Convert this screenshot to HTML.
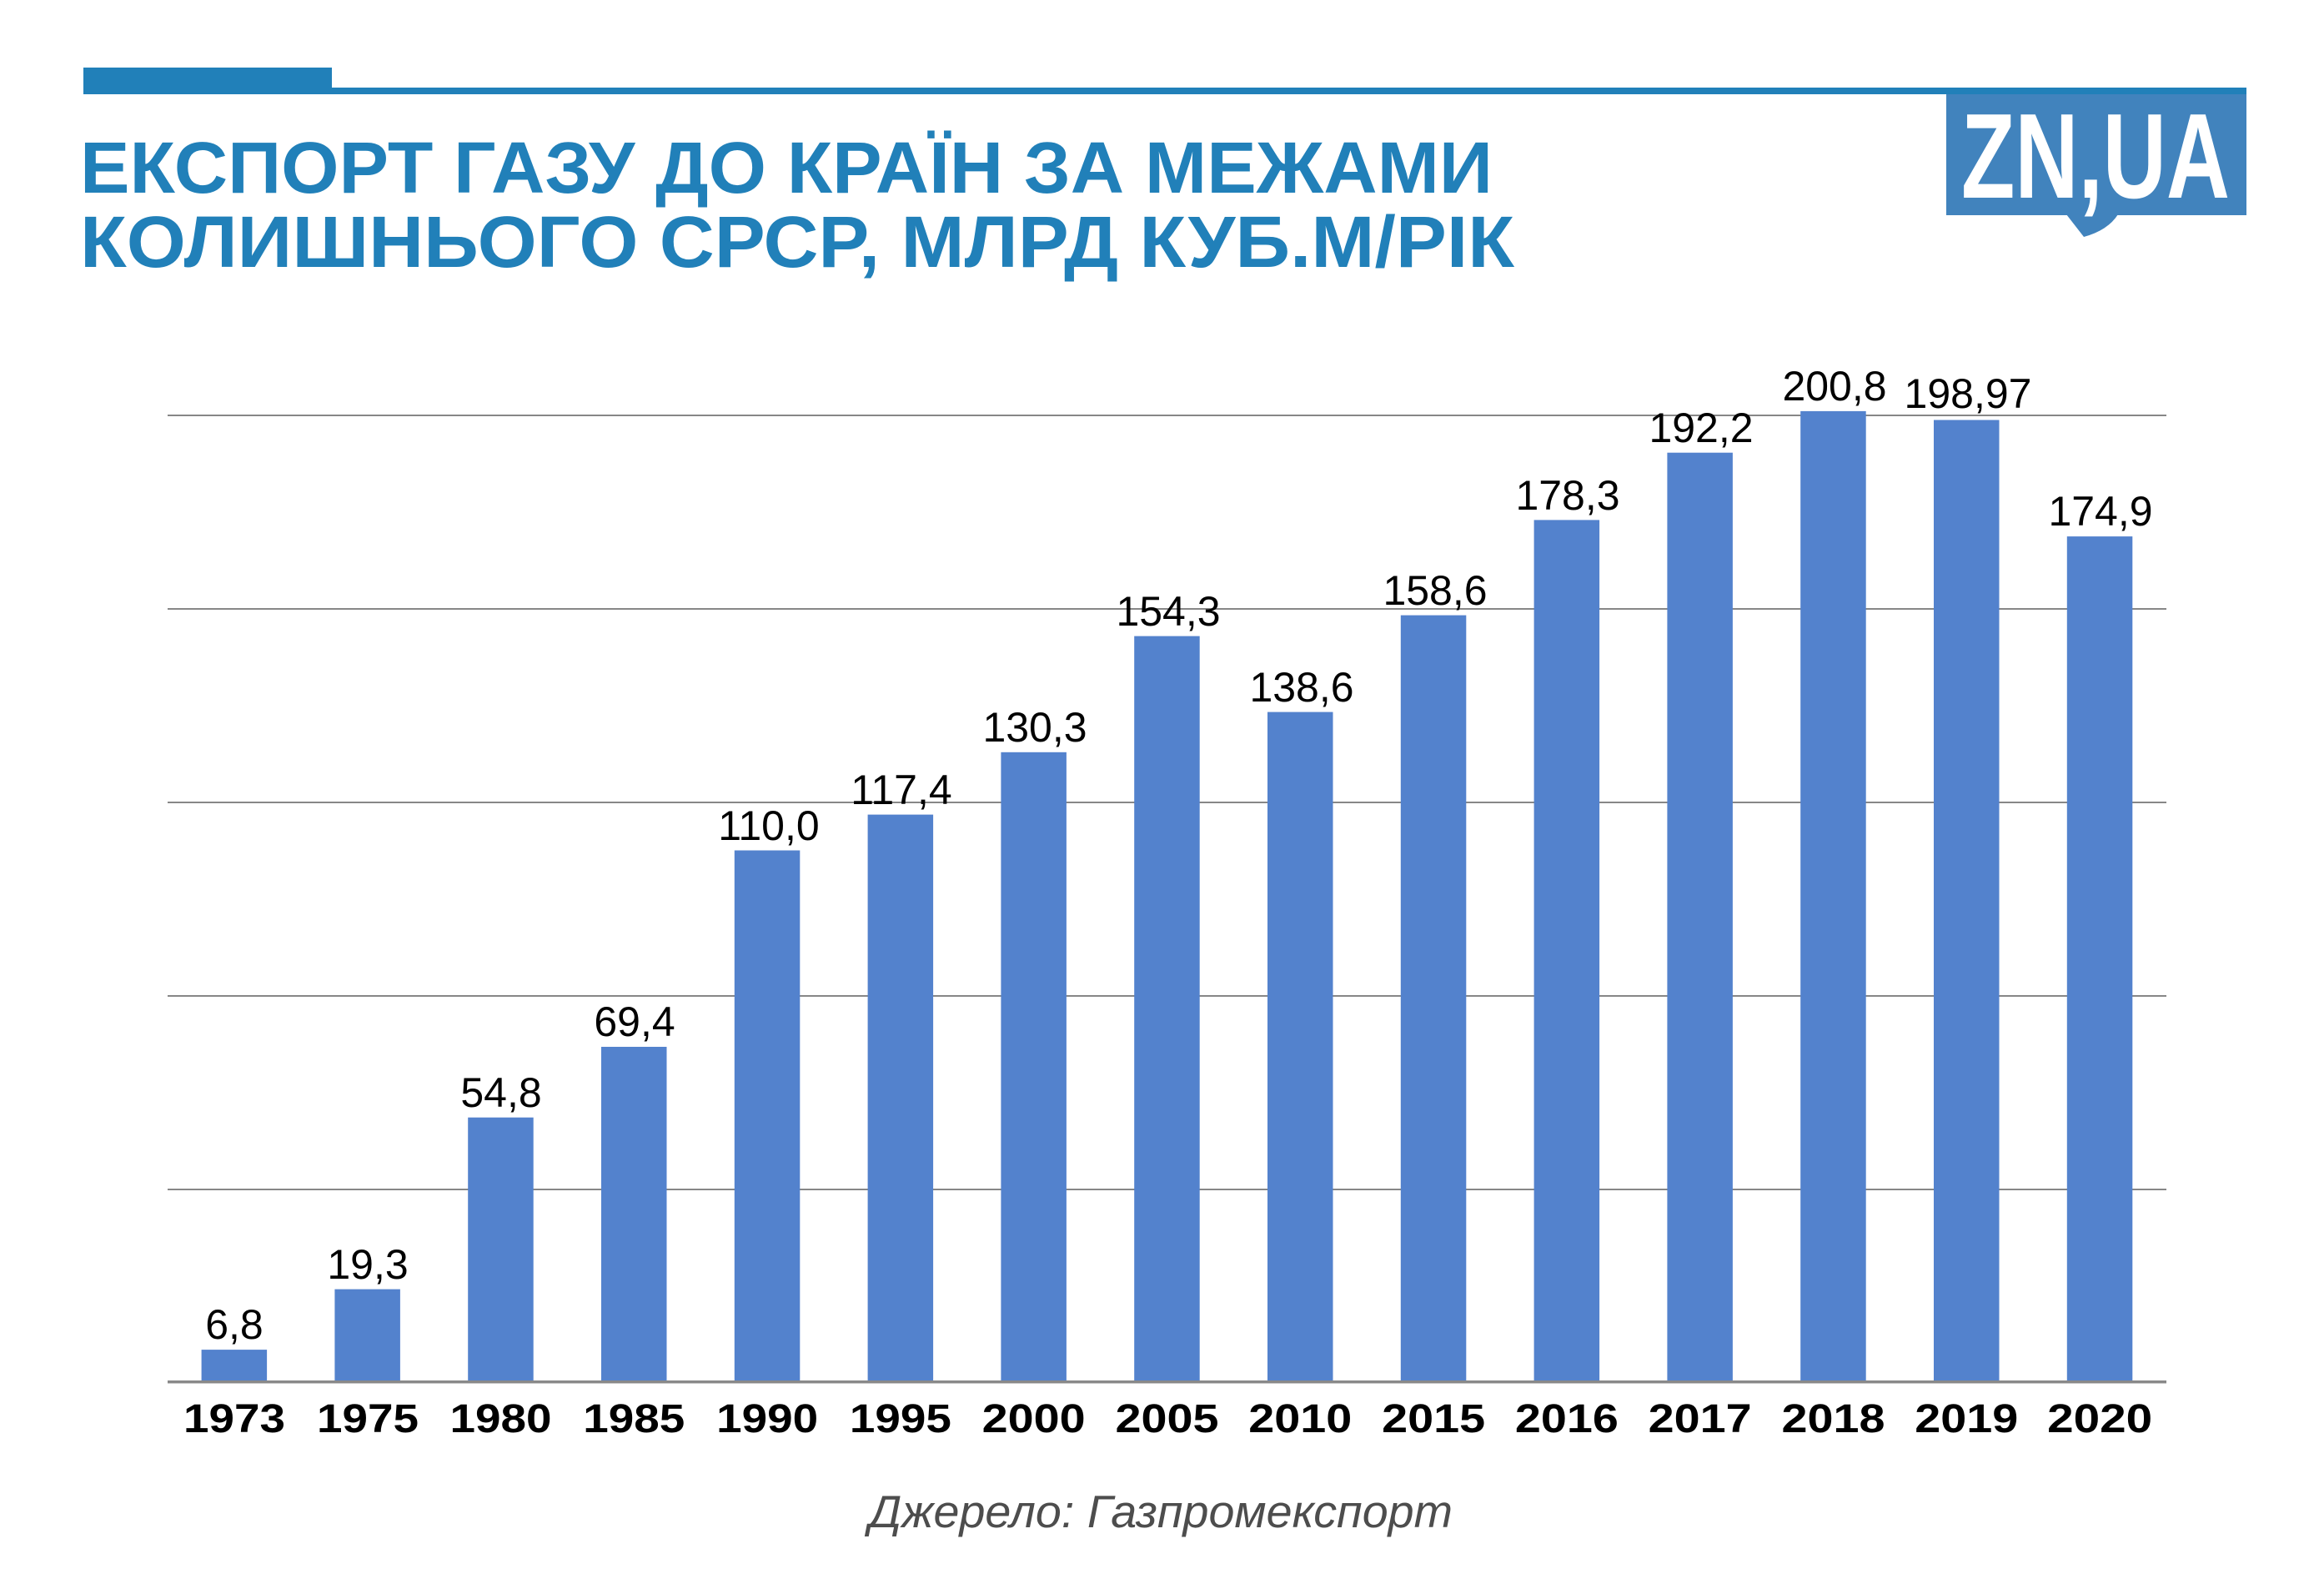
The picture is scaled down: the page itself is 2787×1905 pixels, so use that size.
<!DOCTYPE html>
<html>
<head>
<meta charset="utf-8">
<style>
html,body{margin:0;padding:0;background:#fff;}
svg{display:block;}
</style>
</head>
<body>
<svg xmlns="http://www.w3.org/2000/svg" width="2787" height="1905" viewBox="0 0 2787 1905">
<rect x="0" y="0" width="2787" height="1905" fill="#ffffff"/>
<!-- header bars -->
<rect x="100" y="81" width="298" height="26" fill="#2180b9"/>
<rect x="100" y="105" width="2594" height="8" fill="#2180b9"/>
<!-- logo -->
<rect x="2334" y="113" width="360" height="145" fill="#4183bd"/>
<path d="M2478 257 L2499 284 Q2528 276 2540 257 Z" fill="#4183bd"/>
<text x="2352" y="237" font-family="Liberation Sans, sans-serif" font-weight="bold" font-size="145" fill="#ffffff" textLength="322" lengthAdjust="spacingAndGlyphs">ZN,UA</text>
<!-- title -->
<g font-family="Liberation Sans, 'Noto Sans CJK SC', sans-serif" font-weight="bold" font-size="87" fill="#2180b9">
<text x="96" y="231" textLength="1694" lengthAdjust="spacingAndGlyphs">ЕКСПОРТ ГАЗУ ДО КРАЇН ЗА МЕЖАМИ</text>
<text x="96" y="320" textLength="1720" lengthAdjust="spacingAndGlyphs">КОЛИШНЬОГО СРСР, МЛРД КУБ.М/РІК</text>
</g>
<!-- gridlines -->
<g stroke="#878787" stroke-width="2">
<line x1="201" y1="498" x2="2598" y2="498"/>
<line x1="201" y1="730" x2="2598" y2="730"/>
<line x1="201" y1="962" x2="2598" y2="962"/>
<line x1="201" y1="1194" x2="2598" y2="1194"/>
<line x1="201" y1="1426" x2="2598" y2="1426"/>
</g>
<!-- bars -->
<g fill="#5382cd">
<rect x="241.6" y="1618.1" width="78.5" height="38.4"/>
<rect x="401.4" y="1545.6" width="78.5" height="110.9"/>
<rect x="561.2" y="1339.7" width="78.5" height="316.8"/>
<rect x="721.0" y="1255.0" width="78.5" height="401.5"/>
<rect x="880.8" y="1019.5" width="78.5" height="637.0"/>
<rect x="1040.6" y="976.6" width="78.5" height="679.9"/>
<rect x="1200.4" y="901.8" width="78.5" height="754.7"/>
<rect x="1360.2" y="762.6" width="78.5" height="893.9"/>
<rect x="1520.0" y="853.6" width="78.5" height="802.9"/>
<rect x="1679.8" y="737.6" width="78.5" height="918.9"/>
<rect x="1839.6" y="623.4" width="78.5" height="1033.1"/>
<rect x="1999.4" y="542.7" width="78.5" height="1113.8"/>
<rect x="2159.2" y="492.9" width="78.5" height="1163.6"/>
<rect x="2319.0" y="503.5" width="78.5" height="1153.0"/>
<rect x="2478.8" y="643.1" width="78.5" height="1013.4"/>
</g>
<!-- axis -->
<line x1="201" y1="1656.5" x2="2598" y2="1656.5" stroke="#898989" stroke-width="3"/>
<line x1="201" y1="1658.5" x2="2598" y2="1658.5" stroke="#c8c8c8" stroke-width="1"/>
<!-- value labels -->
<g font-family="Liberation Sans, sans-serif" font-size="50" fill="#000" text-anchor="middle">
<text x="281" y="1605">6,8</text>
<text x="441" y="1533">19,3</text>
<text x="601" y="1327">54,8</text>
<text x="761" y="1242">69,4</text>
<text x="922" y="1007">110,0</text>
<text x="1081" y="964">117,4</text>
<text x="1241" y="889">130,3</text>
<text x="1401" y="750">154,3</text>
<text x="1561" y="841">138,6</text>
<text x="1721" y="725">158,6</text>
<text x="1880" y="611">178,3</text>
<text x="2040" y="530">192,2</text>
<text x="2200" y="480">200,8</text>
<text x="2360" y="489">198,97</text>
<text x="2519" y="630">174,9</text>
</g>
<!-- year labels -->
<g font-family="Liberation Sans, sans-serif" font-weight="bold" font-size="48" fill="#000" text-anchor="middle">
<text x="281" y="1717" textLength="122" lengthAdjust="spacingAndGlyphs">1973</text>
<text x="441" y="1717" textLength="122" lengthAdjust="spacingAndGlyphs">1975</text>
<text x="600.5" y="1717" textLength="122" lengthAdjust="spacingAndGlyphs">1980</text>
<text x="760.3" y="1717" textLength="122" lengthAdjust="spacingAndGlyphs">1985</text>
<text x="920.1" y="1717" textLength="122" lengthAdjust="spacingAndGlyphs">1990</text>
<text x="1079.9" y="1717" textLength="122" lengthAdjust="spacingAndGlyphs">1995</text>
<text x="1239.7" y="1717" textLength="124" lengthAdjust="spacingAndGlyphs">2000</text>
<text x="1399.5" y="1717" textLength="124" lengthAdjust="spacingAndGlyphs">2005</text>
<text x="1559.3" y="1717" textLength="124" lengthAdjust="spacingAndGlyphs">2010</text>
<text x="1719.1" y="1717" textLength="124" lengthAdjust="spacingAndGlyphs">2015</text>
<text x="1878.9" y="1717" textLength="124" lengthAdjust="spacingAndGlyphs">2016</text>
<text x="2038.7" y="1717" textLength="124" lengthAdjust="spacingAndGlyphs">2017</text>
<text x="2198.5" y="1717" textLength="124" lengthAdjust="spacingAndGlyphs">2018</text>
<text x="2358.3" y="1717" textLength="124" lengthAdjust="spacingAndGlyphs">2019</text>
<text x="2518.1" y="1717" textLength="126" lengthAdjust="spacingAndGlyphs">2020</text>
</g>
<!-- source -->
<text x="1392" y="1831" font-family="Liberation Sans, sans-serif" font-style="italic" font-size="55" fill="#4d4d4d" text-anchor="middle" textLength="700" lengthAdjust="spacingAndGlyphs">Джерело: Газпромекспорт</text>
</svg>
</body>
</html>
